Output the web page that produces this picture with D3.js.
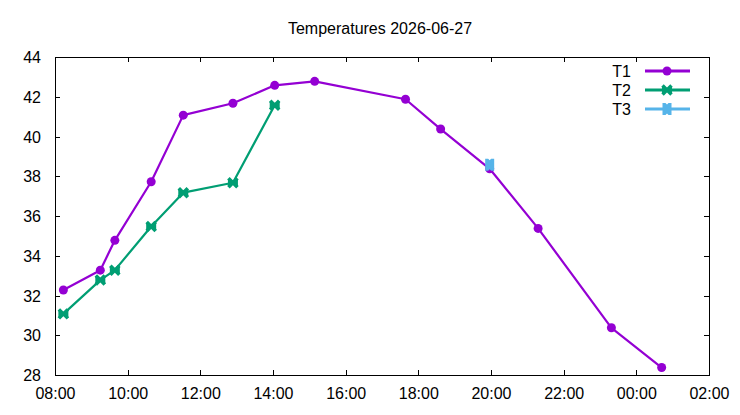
<!DOCTYPE html>
<html lang="en">
<head>
  <meta charset="UTF-8">
  <title>Temperatures</title>
  <style>
    body { margin: 0; background: #fff; }
    text { font-family: 'Liberation Sans', Arial, sans-serif; font-size: 16px; fill: #000; }
  </style>
</head>
<body>
  <svg id="svg" width="740" height="415"></svg>

  <script src="https://d3js.org/d3.v7.min.js"></script>
  <script>
    // data
    const t1Times = ['2026-06-27 08:13', '2026-06-27 09:14', '2026-06-27 09:38', '2026-06-27 10:38',
      '2026-06-27 11:31', '2026-06-27 12:53', '2026-06-27 14:02', '2026-06-27 15:08',
      '2026-06-27 17:38', '2026-06-27 18:36', '2026-06-27 19:57', '2026-06-27 21:17',
      '2026-06-27 23:18', '2026-06-28 00:41']
    const t1Values = [32.3, 33.3, 34.8, 37.75, 41.1, 41.7, 42.6, 42.8, 41.9, 40.4, 38.4, 35.4, 30.4, 28.4]

    const t2Times = ['2026-06-27 08:13', '2026-06-27 09:14', '2026-06-27 09:38', '2026-06-27 10:38',
      '2026-06-27 11:31', '2026-06-27 12:53', '2026-06-27 14:02']
    const t2Values = [31.1, 32.8, 33.3, 35.5, 37.2, 37.7, 41.6]

    const t3Times = ['2026-06-27 19:57']
    const t3Values = [38.6]

    const seriesNames = ['T1', 'T2', 'T3']
    const colors = ['#9400d3', '#009e73', '#56b4e9']
    const xDomain = ['2026-06-27 08:00', '2026-06-28 02:00']
    const yDomain = [28, 44]
    const yTicks = [28, 30, 32, 34, 36, 38, 40, 42, 44]

    const parse = d3.utcParse('%Y-%m-%d %H:%M')
    const zip = (ts, vs) => ts.map((t, i) => ({ t: parse(t), v: vs[i] }))
    const series = [zip(t1Times, t1Values), zip(t2Times, t2Values), zip(t3Times, t3Values)]

    const plotLeft = 55, plotRight = 709, plotTop = 57, plotBottom = 375

    const xScale = d3.scaleUtc()
      .domain(xDomain.map(parse))
      .range([plotLeft + 0.5, plotRight + 0.5])

    const yScale = d3.scaleLinear()
      .domain(yDomain)
      .range([plotBottom + 0.5, plotTop + 0.5])

    const svg = d3.select('#svg')

    // title
    svg.append('text')
      .attr('x', 380)
      .attr('y', 34)
      .attr('text-anchor', 'middle')
      .text('Temperatures 2026-06-27')

    const xTicks = xScale.ticks(d3.utcHour.every(2))
    const fmt = d3.utcFormat('%H:%M')
    const tickLen = 5

    // x ticks, bottom and top mirrored
    const gx = svg.append('g').attr('stroke', '#000').attr('stroke-width', 1)
    xTicks.forEach(t => {
      const x = Math.floor(xScale(t)) + 0.5
      gx.append('line').attr('x1', x).attr('x2', x).attr('y1', plotBottom).attr('y2', plotBottom - tickLen)
      gx.append('line').attr('x1', x).attr('x2', x).attr('y1', plotTop).attr('y2', plotTop + tickLen)
    })
    svg.append('g').selectAll('text')
      .data(xTicks)
      .enter()
      .append('text')
      .attr('x', d => xScale(d))
      .attr('y', 399)
      .attr('text-anchor', 'middle')
      .text(d => fmt(d))

    // y ticks, left and right mirrored
    yTicks.forEach(v => {
      const y = Math.floor(yScale(v)) + 0.5
      gx.append('line').attr('x1', plotLeft).attr('x2', plotLeft + tickLen).attr('y1', y).attr('y2', y)
      gx.append('line').attr('x1', plotRight).attr('x2', plotRight - tickLen).attr('y1', y).attr('y2', y)
    })
    svg.append('g').selectAll('text')
      .data(yTicks)
      .enter()
      .append('text')
      .attr('x', 41)
      .attr('y', d => yScale(d))
      .attr('dy', '0.35em')
      .attr('text-anchor', 'end')
      .text(d => d)

    // frame
    svg.append('rect')
      .attr('x', plotLeft + 0.5)
      .attr('y', plotTop + 0.5)
      .attr('width', plotRight - plotLeft)
      .attr('height', plotBottom - plotTop)
      .attr('fill', 'none')
      .attr('stroke', '#000')

    // marker shapes
    function marker(g, i, x, y) {
      if (i === 0) {
        g.append('circle').attr('cx', x).attr('cy', y).attr('r', 4.5).attr('fill', colors[i])
      } else if (i === 1) {
        g.append('path')
          .attr('d', `M${x - 4.5},${y - 4.5}L${x + 4.5},${y + 4.5}M${x + 4.5},${y - 4.5}L${x - 4.5},${y + 4.5}`)
          .attr('stroke', colors[i]).attr('stroke-width', 3.5).attr('fill', 'none')
        g.append('path')
          .attr('d', `M${x - 5},${y - 4}L${x - 1},${y}L${x - 5},${y + 4}ZM${x + 5},${y - 4}L${x + 1},${y}L${x + 5},${y + 4}Z`)
          .attr('fill', colors[i])
      } else {
        g.append('path')
          .attr('d', `M${x - 4.5},${y - 6}L${x - 1.5},${y - 6}L${x},${y - 4.5}L${x + 1.5},${y - 6}L${x + 4.5},${y - 6}` +
            `L${x + 4.5},${y + 6}L${x + 1.5},${y + 6}L${x},${y + 4.5}L${x - 1.5},${y + 6}L${x - 4.5},${y + 6}Z`)
          .attr('fill', colors[i])
      }
    }

    const line = d3.line()
      .x(d => xScale(d.t))
      .y(d => yScale(d.v))

    series.forEach((data, i) => {
      const g = svg.append('g')
      g.append('path')
        .attr('d', line(data))
        .attr('fill', 'none')
        .attr('stroke', colors[i])
        .attr('stroke-width', 2.2)
        .attr('stroke-linejoin', 'round')
      data.forEach(d => marker(g, i, xScale(d.t), yScale(d.v)))
    })

    // legend
    seriesNames.forEach((name, i) => {
      const y = 71 + i * 19
      const g = svg.append('g')
      g.append('text')
        .attr('x', 631)
        .attr('y', y)
        .attr('dy', '0.35em')
        .attr('text-anchor', 'end')
        .text(name)
      g.append('line')
        .attr('x1', 645).attr('x2', 690)
        .attr('y1', y).attr('y2', y)
        .attr('stroke', colors[i])
        .attr('stroke-width', 3)
      marker(g, i, 667, y)
    })
  </script>
</body>
</html>
